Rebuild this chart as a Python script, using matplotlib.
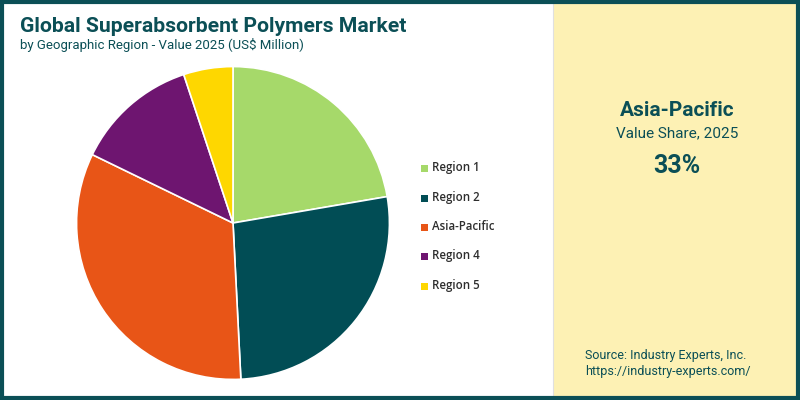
import matplotlib.pyplot as plt
from matplotlib.patches import Rectangle

regions = ['Region 1', 'Region 2', 'Asia-Pacific', 'Region 4', 'Region 5']
shares = [22.3, 26.9, 33.0, 12.7, 5.1]
colors = ['#a6d96a', '#014d55', '#e85517', '#6e1570', '#fed700']

teal = '#0b4f56'
plt.rcParams['font.family'] = ['Roboto', 'DejaVu Sans']

fig = plt.figure(figsize=(8, 4), dpi=100)
fig.patch.set_facecolor('white')

# right side panel and frame
fig.patches.append(Rectangle((553/800, 0), 247/800, 1, transform=fig.transFigure,
                             facecolor='#fdf1b4', edgecolor='none', zorder=0))
fig.patches.append(Rectangle((0.002, 0.004), 0.996, 0.992, transform=fig.transFigure,
                             facecolor='none', edgecolor=teal, linewidth=3, zorder=5))
fig.add_artist(plt.Line2D([553/800, 553/800], [0, 1], color='#e0e0e0', linewidth=0.8))

fig.text(20/800, 1 - 27/400, 'Global Superabsorbent Polymers Market', fontsize=15.2,
         fontweight='bold', color=teal, va='center')
fig.text(20/800, 1 - 45/400, 'by Geographic Region - Value 2025 (US$ Million)', fontsize=9.5,
         color=teal, va='center')

ax = fig.add_axes([(233 - 158)/800, (400 - 223 - 158)/400, 316/800, 316/400])
ax.pie(shares, colors=colors, startangle=90, counterclock=False, radius=1,
       wedgeprops=dict(edgecolor='white', linewidth=1.2))
ax.set_xlim(-1.01, 1.01)
ax.set_ylim(-1.01, 1.01)
ax.set_aspect('equal')
ax.axis('off')

leg_y = [168, 198, 227, 256, 286]
for name, col, y in zip(regions, colors, leg_y):
    fig.add_artist(Rectangle((421/800, 1 - (y + 3.5)/400), 7/800, 7/400,
                             transform=fig.transFigure, facecolor=col, edgecolor='none'))
    fig.text(432/800, 1 - y/400, name, fontsize=8.3, color='#2e2e2e', va='center',
             family=['Open Sans', 'DejaVu Sans'], fontweight='semibold')

cx = 677/800
fig.text(cx, 1 - 110/400, 'Asia-Pacific', fontsize=15, fontweight='bold', color=teal,
         ha='center', va='center')
fig.text(cx, 1 - 133/400, 'Value Share, 2025', fontsize=11, color=teal,
         ha='center', va='center')
fig.text(cx, 1 - 166/400, '33%', fontsize=18, fontweight='bold', color=teal,
         ha='center', va='center')

fig.text(585/800, 1 - 356/400, 'Source: Industry Experts, Inc.', fontsize=9, color=teal,
         va='center')
fig.text(585/800, 1 - 371/400, 'https://industry-experts.com/', fontsize=9, color=teal,
         va='center')

fig.savefig('out.png', dpi=100)
